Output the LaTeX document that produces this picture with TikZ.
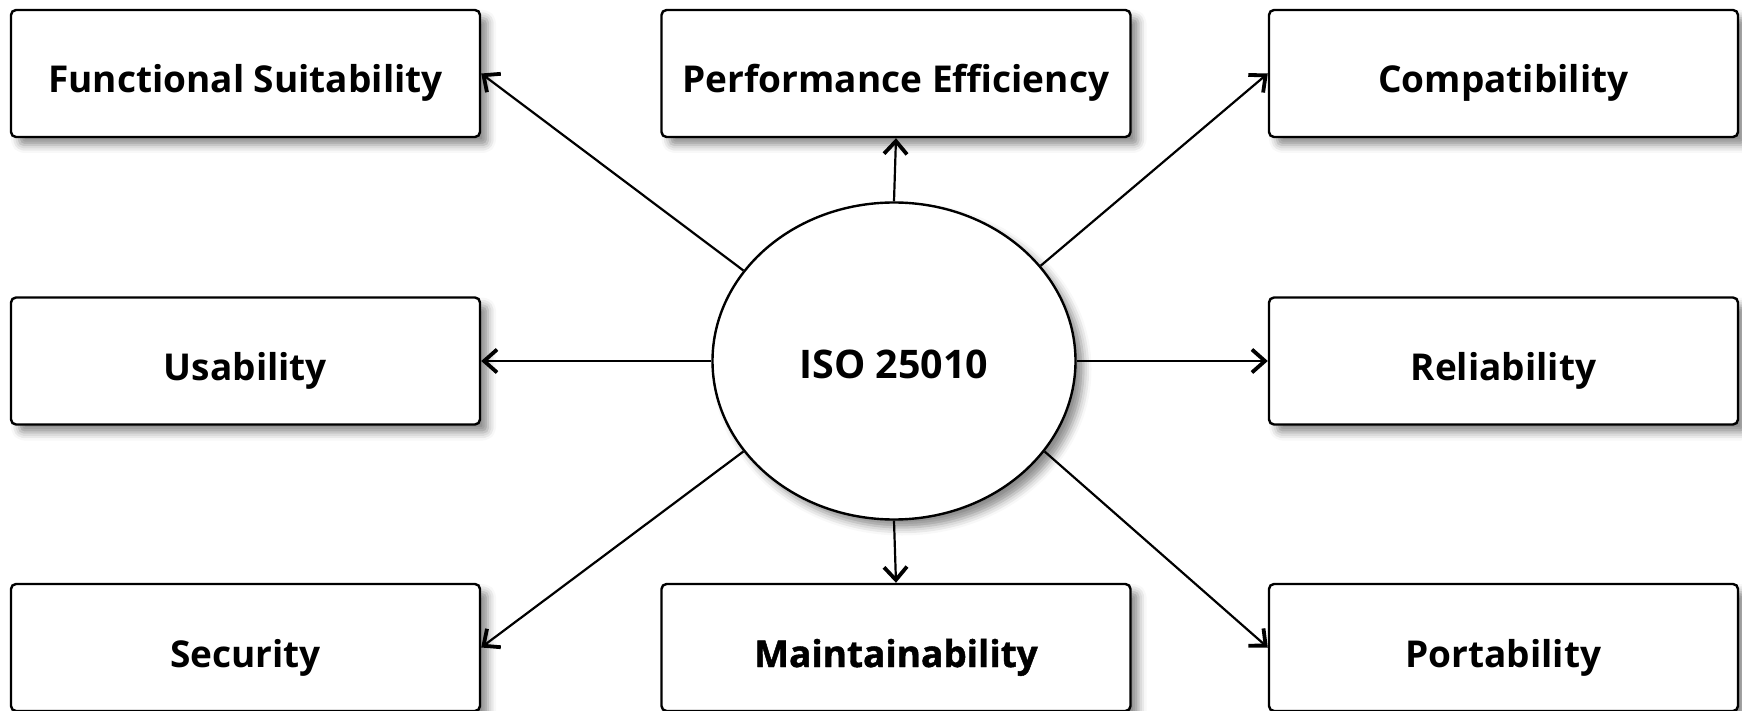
\documentclass[tikz,border=0pt]{standalone}
\usepackage{fontspec}
\setmainfont{Open Sans}
\newfontfamily\heavyfont{Open Sans}[BoldFeatures={FakeBold=1.2}]
\usetikzlibrary{shapes.geometric,shadows.blur,arrows.meta}

\tikzset{
  soft shadow/.style={blur shadow={shadow xshift=4pt, shadow yshift=-4pt,
                      shadow blur radius=4pt, shadow opacity=45}},
  qbox/.style={draw, line width=1.2pt, rounded corners=2.5pt, fill=white,
               minimum width=234.5pt, minimum height=63.5pt, inner sep=0pt,
               text height=19.5pt, text depth=0pt,
               font=\fontsize{18.5}{22}\selectfont\bfseries, soft shadow},
  hub/.style={draw, ellipse, line width=1.2pt, fill=white,
              minimum width=181.5pt, minimum height=158.5pt, inner sep=0pt,
              text height=18pt, text depth=0pt,
              font=\fontsize{19.7}{24}\selectfont\bfseries, soft shadow},
  link/.style={line width=1.1pt, -{Straight Barb[length=6.5pt,width=11.5pt,line width=1.9pt]}}
}

\begin{document}
\begin{tikzpicture}[x=0.5pt, y=-0.5pt]
  \useasboundingbox (0,0) rectangle (1742,711);

  % characteristic boxes
  \node[qbox] (fs)  at (245.5,73.5)  {Functional Suitability};
  \node[qbox] (pe)  at (896,73.5)    {Performance Efficiency};
  \node[qbox] (co)  at (1503.5,73.5) {Compatibility};
  \node[qbox] (us)  at (245.5,361)   {Usability};
  \node[qbox] (re)  at (1503.5,361)  {Reliability};
  \node[qbox] (se)  at (245.5,647.5) {Security};
  \node[qbox] (ma)  at (896,647.5)   {\heavyfont\bfseries Maintainability};
  \node[qbox] (po)  at (1503.5,647.5){Portability};

  % central standard
  \node[hub] (iso) at (894,361) {ISO 25010};

  % connectors
  \draw[link] (iso.149) -- (fs.east);
  \draw[link] (iso.north) -- (pe.south);
  \draw[link] (iso.33) -- (co.west);
  \draw[link] (iso.west) -- (us.east);
  \draw[link] (iso.east) -- (re.west);
  \draw[link] (iso.211) -- (se.east);
  \draw[link] (iso.south) -- (ma.north);
  \draw[link] (iso.329) -- (po.west);
\end{tikzpicture}
\end{document}
